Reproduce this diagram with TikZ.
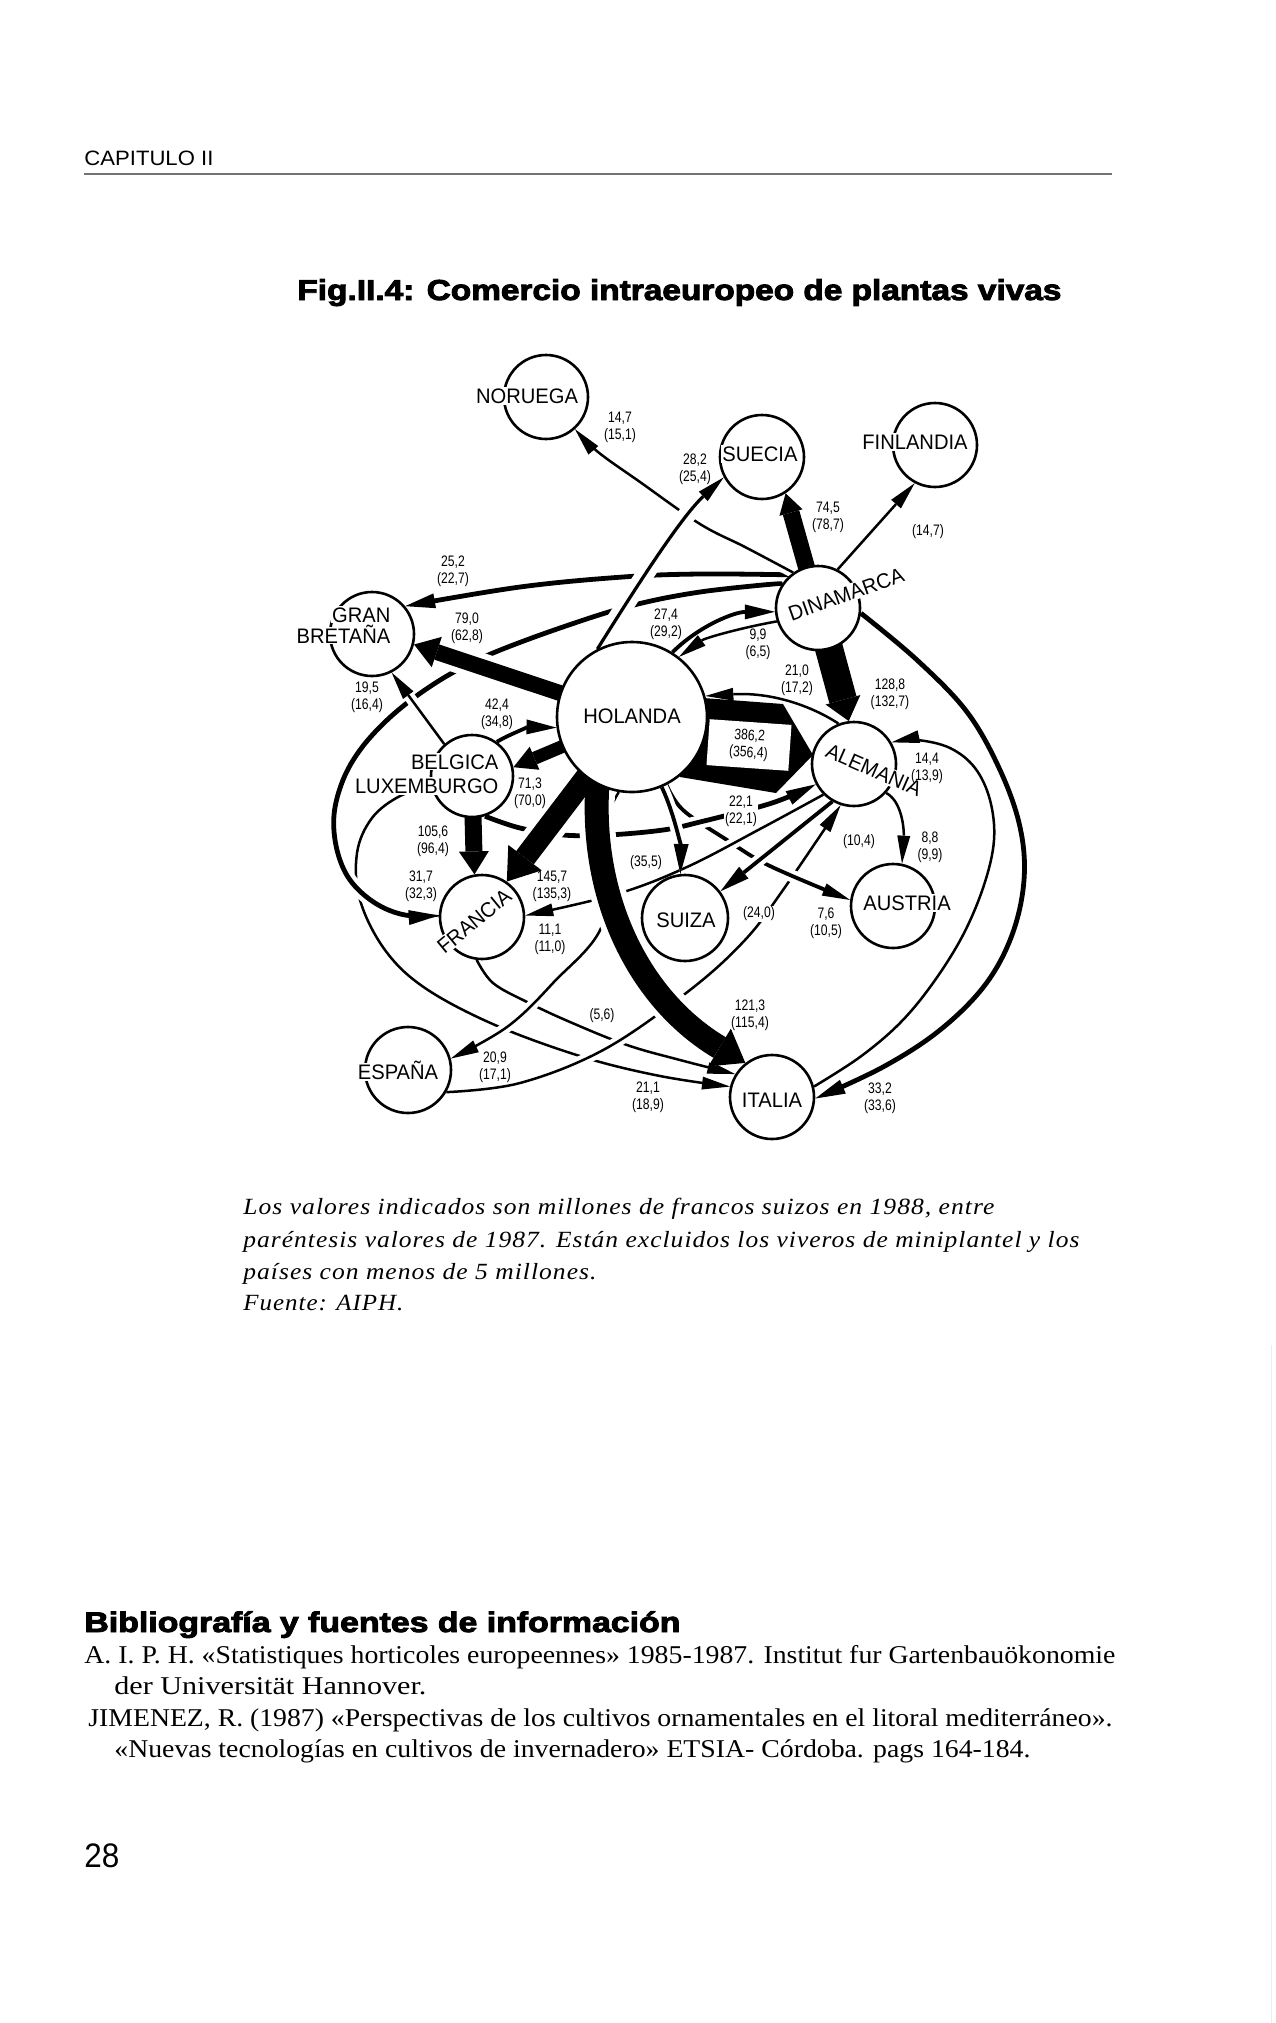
\documentclass[tikz,border=0pt]{standalone}
\usepackage{fontspec}
\usepackage{graphicx}
\setmainfont{Liberation Serif}
\setsansfont{Liberation Sans}
\newfontfamily\ctyfont[FakeStretch=0.96]{Liberation Sans}
\newfontfamily\labfont[FakeStretch=0.8]{Liberation Sans}
\newfontfamily\hdrfont{Liberation Sans}
\newfontfamily\hdrbold[FakeBold=3]{Liberation Sans}
\newfontfamily\capfont[LetterSpace=4]{Liberation Serif}
\usetikzlibrary{arrows.meta}
\pgfdeclarelayer{bg}
\pgfsetlayers{bg,main}
\tikzset{
  cc/.style={circle, draw, fill=white, line width=1.3pt, inner sep=0pt, minimum size=#1},
  ctxt/.style={font=\ctyfont\fontsize{10.5}{10.5}\selectfont, fill=white, inner sep=0.6pt, text height=7.5pt, text depth=0pt},
  num/.style={font=\labfont\fontsize{7.6}{8.6}\selectfont, align=center, inner sep=0.5pt},
  thinln/.style={line width=1.25pt, preaction={draw=white, line width=5.5pt}},
  medln/.style={line width=1.9pt, preaction={draw=white, line width=6.2pt}},
  bigln/.style={line width=2.4pt, preaction={draw=white, line width=6.8pt}},
  sa/.style={-{Triangle[length=14pt,width=6.5pt,line width=0pt]}},
  ma/.style={-{Triangle[length=15pt,width=7.5pt,line width=0pt]}},
  pg/.style={anchor=base west, inner sep=0pt},
}
\begin{document}
\begin{tikzpicture}[x=0.5pt,y=-0.5pt]
\useasboundingbox (0,0) rectangle (1275,2023);

% ---------- page text ----------
\node[pg] (capit) at (84,165) {\resizebox{64.5pt}{\height}{\hdrfont\fontsize{10.4}{12}\selectfont CAPITULO II}};
\draw[black!55, line width=0.8pt] (84,174) -- (1112,174);
\node[pg] (title) at (297,300) {\resizebox{382pt}{\height}{\hdrbold\bfseries\fontsize{14.4}{16}\selectfont Fig.II.4: Comercio intraeuropeo de plantas vivas}};
\draw[black!7, line width=0.5pt] (1271,1345) -- (1271,2023);

% ---------- circles ----------
\node[cc=42pt] (nor) at (546,397) {};
\node[cc=42pt] (sue) at (762,457) {};
\node[cc=42pt] (fin) at (935,445) {};
\node[cc=42pt] (din) at (818,608) {};
\node[cc=42pt] (gb)  at (372,634) {};
\node[cc=75pt] (hol) at (632,717) {};
\node[cc=41pt] (bel) at (472,776) {};
\node[cc=42pt] (ale) at (854,764) {};
\node[cc=42pt] (fra) at (482,917) {};
\node[cc=43pt] (sui) at (685,918) {};
\node[cc=42pt] (aus) at (893,906) {};
\node[cc=43pt] (esp) at (408,1070) {};
\node[cc=42pt] (ita) at (772,1097) {};

% ---------- country names ----------
\node[ctxt] (tnor) at (527,396) {NORUEGA};
\node[ctxt] (tsue) at (760,454) {SUECIA};
\node[ctxt] (tfin) at (915,442) {FINLANDIA};
\node[ctxt, rotate=19.6] (tdin) at (846,594) {DINAMARCA};
\node[ctxt, anchor=east] (tgb1) at (392,614.5) {GRAN};
\node[ctxt, anchor=east] (tgb2) at (392,635.5) {BRETAÑA};
\node[ctxt] (thol) at (632,716) {HOLANDA};
\node[ctxt, anchor=east] (tbel1) at (500,761.5) {BELGICA};
\node[ctxt, anchor=east] (tbel2) at (500,786) {LUXEMBURGO};
\node[ctxt, rotate=-23.7] (tale) at (874,770) {ALEMANIA};
\node[ctxt, rotate=39.4] (tfra) at (474,921) {FRANCIA};
\node[ctxt] (tsui) at (686,920) {SUIZA};
\node[ctxt] (taus) at (907,903) {AUSTRIA};
\node[ctxt] (tesp) at (398,1072) {ESPAÑA};
\node[ctxt] (tita) at (772,1100) {ITALIA};

% ---------- connectors ----------
\begin{pgfonlayer}{bg}
% Belgica -> Italia
\draw[thinln, sa] plot[smooth, tension=0.6] coordinates {(bel.195) (400,796) (372,818) (357,853) (360,900) (385,950) (425,988) (495,1025) (583,1057) (660,1076) (ita.166)};
% Francia -> Italia
\draw[thinln, sa] plot[smooth, tension=0.6] coordinates {(fra.-97) (493,983) (527,1002) (570,1022) (627,1045) (680,1060) (ita.148)};
% -> Espana
\draw[thinln, sa] plot[smooth, tension=0.6] coordinates {(hol.-100) (600,840) (603,923) (553,983) (507,1027) (esp.15)};
% Espana -> Alemania
\draw[thinln, sa] plot[smooth, tension=0.6] coordinates {(esp.-30) (520,1083) (605,1049) (690,990) (745,940) (783,890) (ale.252)};
% Holanda -> Austria
\draw[medln, sa] plot[smooth, tension=0.6] coordinates {(hol.-63) (683,810) (727,840) (770,866) (aus.172)};
% Alemania -> Francia
\draw[thinln, sa] plot[smooth, tension=0.6] coordinates {(ale.225) (760,829) (687,867) (617,894) (fra.2)};
% Alemania -> Suiza
\draw[medln, ma] (ale.240) -- (sui.37);
% Belgica -> Alemania
\draw[bigln, ma] plot[smooth, tension=0.6] coordinates {(bel.-72) (520,828) (563,835) (608,835) (663,830) (700,822) (772,803) (ale.208)};
% Alemania -> Austria
\draw[thinln, sa] (ale.-42) .. controls (903,802) and (904,832) .. (aus.78);
% Italia -> Alemania
\draw[thinln, sa] plot[smooth, tension=0.6] coordinates {(ita.14) (860,1057) (900,1023) (933,983) (963,935) (984,885) (994,840) (990,800) (975,768) (950,748) (917,740) (ale.30)};
% Dinamarca -> Italia
\draw[bigln, ma] plot[smooth, tension=0.6] coordinates {(din.-7) (917,660) (967,712) (1000,770) (1020,827) (1024,880) (1012,935) (985,985) (940,1030) (883,1067) (ita.-2)};
% Dinamarca -> Francia
\draw[bigln, ma] plot[smooth, tension=0.6] coordinates {(din.145) (700,592) (630,606) (560,628) (493,653) (452,673) (415,697) (385,722) (360,750) (343,780) (334,815) (337,850) (350,880) (375,903) (405,915) (fra.178)};
% Dinamarca -> Gran Bretana
\draw[bigln, ma] plot[smooth, tension=0.6] coordinates {(din.130) (700,574) (623,577) (520,587) (gb.40)};
% Dinamarca -> Noruega
\draw[thinln, sa] plot[smooth, tension=0.6] coordinates {(din.125) (745,547) (700,524) (640,482) (598,452) (nor.-48)};
% Dinamarca -> Finlandia
\draw[thinln, sa] (din.63) -- (fin.242);
% Holanda -> Suecia
\draw[line width=1.6pt, preaction={draw=white, line width=9pt}, sa] (hol.117) .. controls (630,597) and (679,519) .. (sue.208);
% Belgica -> Gran Bretana
\draw[thinln, sa] (bel.131) -- (gb.-63);
% Belgica -> Holanda
\draw[medln, ma] (bel.54) .. controls (512,733) and (530,727) .. (hol.188);
% Holanda -> Dinamarca
\draw[medln, ma] (hol.58) .. controls (700,625) and (735,612) .. (din.185);
% Dinamarca -> Holanda
\draw[thinln, sa] (din.198) .. controls (740,628) and (705,638) .. (hol.52);
% Alemania -> Holanda
\draw[thinln, sa] (ale.111) .. controls (810,705) and (770,692) .. (hol.16);
% Holanda -> Suiza
\draw[medln, ma] (hol.-67) .. controls (675,815) and (681,850) .. (sui.96);

% thick arrows: white halo pass
\draw[white, line width=14pt, shorten >=10pt] (hol.center) -- (gb.-14);
\draw[white, line width=17pt, shorten >=12pt] (hol.center) -- (fra.55);
\draw[white, line width=18pt, shorten >=12pt] (hol.center) -- (hol.-117) .. controls (590,900) and (640,1000) .. (ita.128);
% thick arrows: black pass
\draw[line width=8pt, -{Triangle[length=12pt,width=16pt,line width=0pt]}] (hol.center) -- (gb.-14);
\draw[line width=6.5pt, -{Triangle[length=11.5pt,width=12.5pt,line width=0pt]}] (hol.center) -- (bel.12);
\draw[line width=8.5pt, -{Triangle[length=11.5pt,width=15pt,line width=0pt]}] (bel.center) -- (fra.100);
\draw[line width=11pt, -{Triangle[length=15pt,width=21pt,line width=0pt]}] (hol.center) -- (fra.55);
\draw[line width=12pt, -{Triangle[length=15pt,width=22pt,line width=0pt]}] (hol.center) -- (hol.-117) .. controls (590,900) and (640,1000) .. (ita.128);
\draw[line width=8.5pt, -{Triangle[length=10pt,width=12pt,line width=0pt]}] (din.center) -- (sue.-57);
\draw[line width=14pt, -{Triangle[length=11pt,width=18pt,line width=0pt]}] (din.center) -- (ale.97);
\fill (690,697) -- (783,704) -- (813,755) -- (776,793) -- (680,777) -- cycle;
\end{pgfonlayer}

% ---------- value labels ----------
\node[num] (v1) at (620,427) {14,7\\(15,1)};
\node[num] (v2) at (695,469) {28,2\\(25,4)};
\node[num] (v3) at (453,571) {25,2\\(22,7)};
\node[num] (v4) at (467,628) {79,0\\(62,8)};
\node[num] (v5) at (666,624) {27,4\\(29,2)};
\node[num] (v6) at (828,517) {74,5\\(78,7)};
\node[num] (v7) at (928,532) {(14,7)};
\node[num] (v8) at (758,644) {9,9\\(6,5)};
\node[num] (v9) at (797,680) {21,0\\(17,2)};
\node[num] (v10) at (890,694) {128,8\\(132,7)};
\node[num, fill=white, rotate=-4, minimum width=41pt, minimum height=23pt] (box) at (749,745) {386,2\\(356,4)};
\node[num] (v11) at (927,768) {14,4\\(13,9)};
\node[num, fill=white] (v12) at (741,811) {22,1\\(22,1)};
\node[num] (v13) at (859,842) {(10,4)};
\node[num] (v14) at (930,847) {8,8\\(9,9)};
\node[num, fill=white] (v15) at (759,914) {(24,0)};
\node[num] (v16) at (826,923) {7,6\\(10,5)};
\node[num] (v17) at (497,714) {42,4\\(34,8)};
\node[num] (v18) at (367,697) {19,5\\(16,4)};
\node[num] (v19) at (530,793) {71,3\\(70,0)};
\node[num] (v20) at (433,841) {105,6\\(96,4)};
\node[num] (v21) at (421,886) {31,7\\(32,3)};
\node[num] (v22) at (552,886) {145,7\\(135,3)};
\node[num] (v23) at (550,939) {11,1\\(11,0)};
\node[num] (v24) at (646,863) {(35,5)};
\node[num] (v25) at (602,1016) {(5,6)};
\node[num] (v26) at (495,1067) {20,9\\(17,1)};
\node[num] (v27) at (648,1097) {21,1\\(18,9)};
\node[num] (v28) at (750,1015) {121,3\\(115,4)};
\node[num] (v29) at (880,1098) {33,2\\(33,6)};

% ---------- caption ----------
\node[pg] (c1) at (243,1214) {\resizebox{375.5pt}{\height}{\capfont\itshape\fontsize{11.6}{13}\selectfont Los valores indicados son millones de francos suizos en 1988, entre}};
\node[pg] (c2) at (243,1247) {\resizebox{418pt}{\height}{\capfont\itshape\fontsize{11.6}{13}\selectfont paréntesis valores de 1987. Están excluidos los viveros de miniplantel y los}};
\node[pg] (c3) at (243,1279) {\resizebox{176.5pt}{\height}{\capfont\itshape\fontsize{11.6}{13}\selectfont países con menos de 5 millones.}};
\node[pg] (c4) at (243,1310) {\resizebox{80pt}{\height}{\capfont\itshape\fontsize{11.6}{13}\selectfont Fuente: AIPH.}};

% ---------- bibliography ----------
\node[pg] (bh) at (84,1632) {\resizebox{298pt}{\height}{\hdrbold\bfseries\fontsize{14.2}{16}\selectfont Bibliografía y fuentes de información}};
\node[pg] (b1) at (84,1663) {\resizebox{515.5pt}{\height}{\fontsize{12.8}{14}\selectfont A. I. P. H. «Statistiques horticoles europeennes» 1985-1987. Institut fur Gartenbauökonomie}};
\node[pg] (b2) at (114,1694) {\resizebox{156pt}{\height}{\fontsize{12.8}{14}\selectfont der Universität Hannover.}};
\node[pg] (b3) at (88,1726) {\resizebox{512pt}{\height}{\fontsize{12.8}{14}\selectfont JIMENEZ, R. (1987) «Perspectivas de los cultivos ornamentales en el litoral mediterráneo».}};
\node[pg] (b4) at (114,1757) {\resizebox{458pt}{\height}{\fontsize{12.8}{14}\selectfont «Nuevas tecnologías en cultivos de invernadero» ETSIA- Córdoba. pags 164-184.}};
\node[pg] (pnum) at (84,1867) {\resizebox{17.5pt}{\height}{\hdrfont\fontsize{17}{19}\selectfont 28}};
\end{tikzpicture}
\end{document}
